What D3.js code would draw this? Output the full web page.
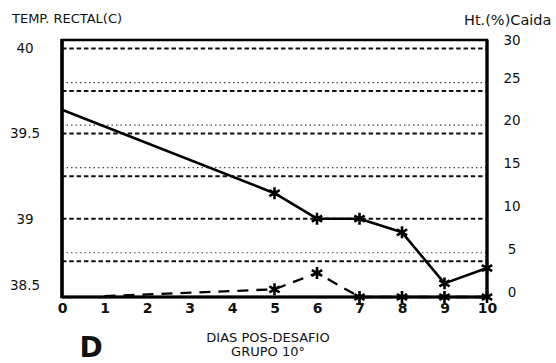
<!DOCTYPE html>
<html>
<head>
<meta charset="utf-8">
<script src="https://cdn.jsdelivr.net/npm/d3@7"></script>
<style>
  html, body { margin: 0; padding: 0; background: #fff; }
  svg { display: block; }
  text { font-family: "DejaVu Sans", sans-serif; fill: #111; }
</style>
</head>
<body>
<svg id="chart" width="556" height="363"></svg>
<script>
// ---- data ----
const xTicks = [0, 1, 2, 3, 4, 5, 6, 7, 8, 9, 10];
const tempDays = [0, 5, 6, 7, 8, 9, 10];
const tempValues = [39.64, 39.15, 39.0, 39.0, 38.92, 38.62, 38.71];
const pctDays = [1, 5, 6, 7, 8, 9, 10];
const pctValues = [0.1, 0.9, 2.8, 0, 0, 0, 0];
const markerFromDay = 5;
const leftTicks = [38.5, 39, 39.5, 40];
const rightTicks = [0, 5, 10, 15, 20, 25, 30];
const gridDashed = [40, 39.75, 39.5, 39.25, 39, 38.75];
const gridDotted = [39.8, 39.55, 39.3, 38.8];

// ---- layout ----
const L = 62, R = 487, T = 40, B = 297;
const svg = d3.select("#chart");

const x = d3.scaleLinear().domain([0, 10]).range([L, R]);
const yL = d3.scaleLinear().domain([38.54, 40.05]).range([B, T]).clamp(true);
const yR = d3.scaleLinear().domain([0, 30]).range([B, T]);

// gridlines
svg.append("g").selectAll("line").data(gridDotted).join("line")
  .attr("x1", L).attr("x2", R)
  .attr("y1", d => yL(d)).attr("y2", d => yL(d))
  .attr("stroke", "#444").attr("stroke-width", 1.2)
  .attr("stroke-dasharray", "1.5,3");
svg.append("g").selectAll("line").data(gridDashed).join("line")
  .attr("x1", L).attr("x2", R)
  .attr("y1", d => yL(d)).attr("y2", d => yL(d))
  .attr("stroke", "#111").attr("stroke-width", 2)
  .attr("stroke-dasharray", "4.5,2.8");

// frame
svg.append("rect").attr("x", L).attr("y", T).attr("width", R - L).attr("height", B - T)
  .attr("fill", "none").attr("stroke", "#000").attr("stroke-width", 2.5);
svg.append("line").attr("x1", L).attr("x2", L).attr("y1", T - 1).attr("y2", B + 1)
  .attr("stroke", "#000").attr("stroke-width", 3.5);
svg.append("line").attr("x1", L).attr("x2", R).attr("y1", B).attr("y2", B)
  .attr("stroke", "#000").attr("stroke-width", 3.2);
svg.append("line").attr("x1", R).attr("x2", R).attr("y1", T).attr("y2", B)
  .attr("stroke", "#000").attr("stroke-width", 3.2);

// axes (labels only)
const axB = svg.append("g").attr("transform", `translate(0,${B})`)
  .call(d3.axisBottom(x).tickValues(xTicks).tickSize(0).tickPadding(6).tickFormat(d3.format("d")));
axB.select(".domain").remove();
axB.selectAll("text").style("font-size", "14px").style("font-weight", "bold")
  .style("font-family", "DejaVu Sans, sans-serif").attr("fill", "#111");

const axL = svg.append("g").attr("transform", `translate(40,0)`)
  .call(d3.axisLeft(yL).tickValues(leftTicks).tickSize(0).tickPadding(0).tickFormat(d => String(d)));
axL.select(".domain").remove();
axL.selectAll("text").style("font-size", "13.5px")
  .style("font-family", "DejaVu Sans, sans-serif").attr("fill", "#111")
  .attr("text-anchor", "middle").attr("x", -15)
  .attr("dy", d => d === leftTicks[0] ? "-0.55em" : "0.32em");

const axR = svg.append("g").attr("transform", `translate(504,0)`)
  .call(d3.axisRight(yR).tickValues(rightTicks).tickSize(0).tickPadding(0).tickFormat(d3.format("d")));
axR.select(".domain").remove();
axR.selectAll("text").style("font-size", "13.5px")
  .style("font-family", "DejaVu Sans, sans-serif").attr("fill", "#111")
  .attr("text-anchor", "middle").attr("x", 8).attr("dy", d => d === 30 ? "0.32em" : "-0.05em");

// series
const tempData = tempDays.map((d, i) => ({ d, v: tempValues[i] }));
const pctData = pctDays.map((d, i) => ({ d, v: pctValues[i] }));

svg.append("path").datum(pctData)
  .attr("fill", "none").attr("stroke", "#000").attr("stroke-width", 2.3)
  .attr("stroke-dasharray", "11,8")
  .attr("d", d3.line().x(p => x(p.d)).y(p => yR(p.v)));

svg.append("path").datum(tempData)
  .attr("fill", "none").attr("stroke", "#000").attr("stroke-width", 2.6)
  .attr("stroke-linejoin", "round")
  .attr("d", d3.line().x(p => x(p.d)).y(p => yL(p.v)));

const star = d3.symbol().type(d3.symbolAsterisk).size(100);
svg.append("g").selectAll("path").data(tempData.filter(p => p.d >= markerFromDay)).join("path")
  .attr("transform", p => `translate(${x(p.d)},${yL(p.v)})`)
  .attr("d", star).attr("fill", "none").attr("stroke", "#000").attr("stroke-width", 2.6);
svg.append("g").selectAll("path").data(pctData.filter(p => p.d >= markerFromDay)).join("path")
  .attr("transform", p => `translate(${x(p.d)},${yR(p.v)})`)
  .attr("d", star).attr("fill", "none").attr("stroke", "#000").attr("stroke-width", 2.6);

// titles
svg.append("text").attr("x", 12).attr("y", 23).style("font-size", "13px").text("TEMP. RECTAL(C)");
svg.append("text").attr("x", 464).attr("y", 25).style("font-size", "14.5px").text("Ht.(%)Caida");
svg.append("text").attr("x", 268).attr("y", 342).attr("text-anchor", "middle")
  .style("font-size", "13px").text("DIAS POS-DESAFIO");
svg.append("text").attr("x", 268).attr("y", 356).attr("text-anchor", "middle")
  .style("font-size", "13px").text("GRUPO 10°");
svg.append("text").attr("x", 91).attr("y", 357).attr("text-anchor", "middle")
  .style("font-size", "28px").style("font-weight", "bold").text("D");
</script>
</body>
</html>
